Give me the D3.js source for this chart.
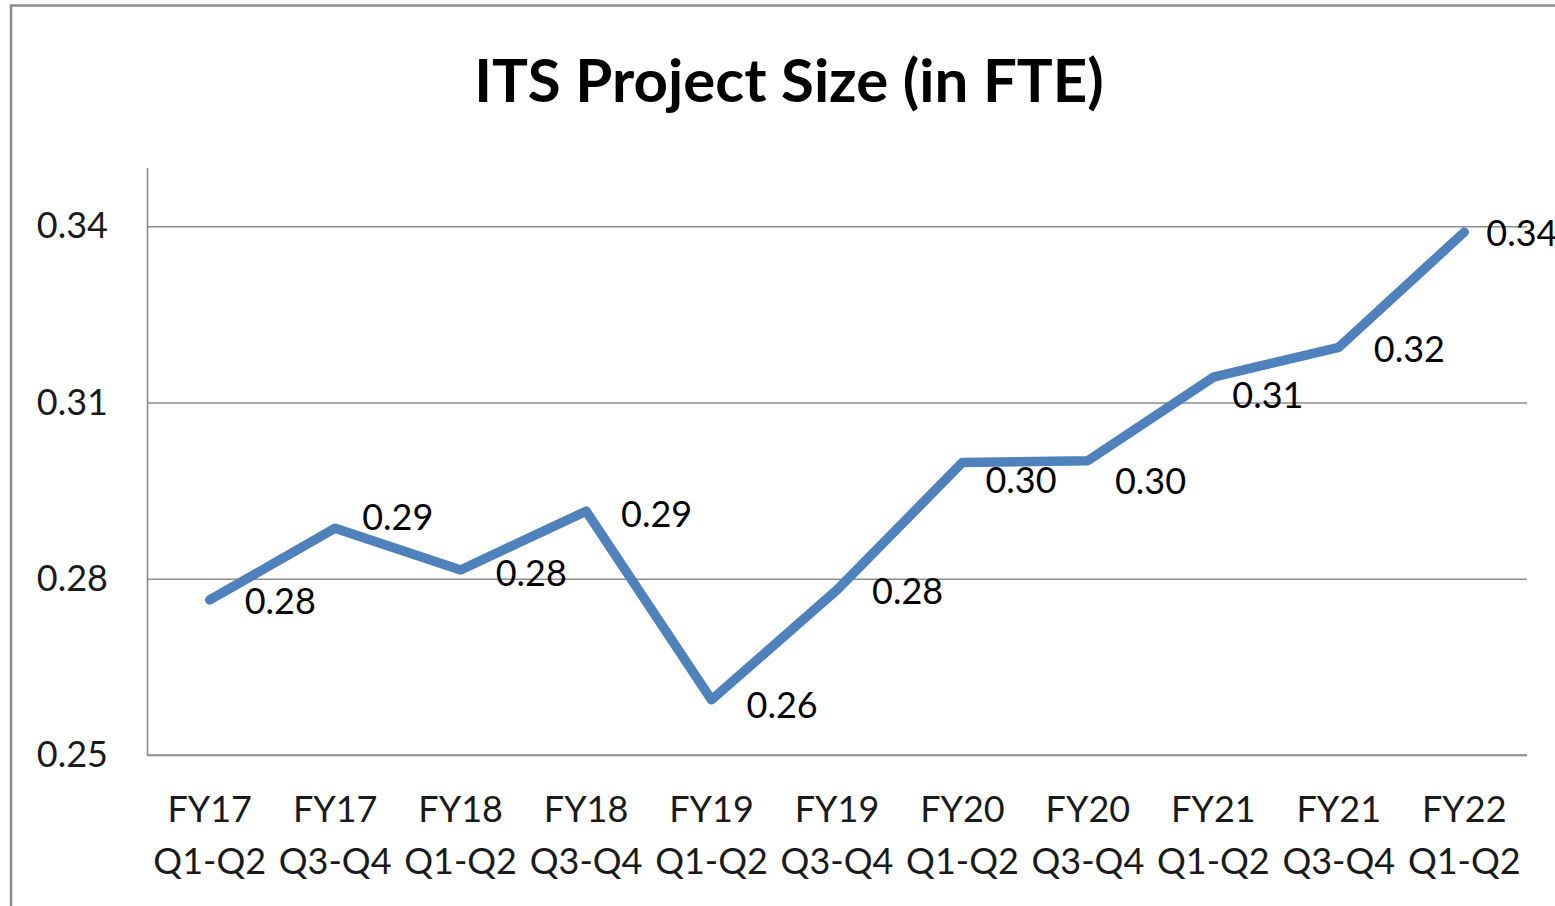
<!DOCTYPE html>
<html>
<head>
<meta charset="utf-8">
<script src="https://cdn.jsdelivr.net/npm/d3@7"></script>
<style>
  html, body { margin: 0; padding: 0; background: #fff; overflow: hidden; }
  svg { display: block; font-family: Lato, "Open Sans", sans-serif; }
</style>
</head>
<body>
<svg id="chart" width="1555" height="906"></svg>
<script>
// values
const periodYears = ["FY17", "FY17", "FY18", "FY18", "FY19", "FY19", "FY20", "FY20", "FY21", "FY21", "FY22"];
const periodHalves = ["Q1-Q2", "Q3-Q4", "Q1-Q2", "Q3-Q4", "Q1-Q2", "Q3-Q4", "Q1-Q2", "Q3-Q4", "Q1-Q2", "Q3-Q4", "Q1-Q2"];
const fteValues = [0.2764, 0.2886, 0.2815, 0.2915, 0.2594, 0.2781, 0.2998, 0.3001, 0.3143, 0.3194, 0.3390];
const yTicks = [0.25, 0.28, 0.31, 0.34];
const yDomain = [0.25, 0.35];

// data labels were nudged by hand in the original, keep those nudges here [dx, dy]
const labelNudge = [[35, 0], [27, -12], [35, 2], [35, 2], [35, 4], [35, 0],
                    [23, 17], [27, 19], [19, 17], [35, 1], [22, 0]];

const margin = { left: 147, right: 28, top: 167.5, bottom: 151 };
const svg = d3.select("#chart");
const W = +svg.attr("width"), H = +svg.attr("height");

const periods = periodYears.map((y, i) => y + " " + periodHalves[i]);

const x = d3.scaleBand().domain(periods).range([margin.left, W - margin.right]).padding(0);
const y = d3.scaleLinear().domain(yDomain).range([H - margin.bottom, margin.top]);
const cx = d => x(d) + x.bandwidth() / 2;

// outer chart border
svg.append("rect")
   .attr("x", 11).attr("y", 5.5)
   .attr("width", W + 20).attr("height", H + 20)
   .attr("fill", "#fff")
   .attr("stroke", "#8c8c8c")
   .attr("stroke-width", 2.5);

// title
svg.append("text")
   .attr("x", 789).attr("y", 79)
   .attr("text-anchor", "middle")
   .attr("dominant-baseline", "central")
   .attr("font-weight", "bold")
   .attr("font-size", 60)
   .attr("fill", "#000")
   .text("ITS Project Size (in FTE)");

// gridlines
svg.append("g")
   .attr("transform", `translate(${margin.left},0)`)
   .call(d3.axisLeft(y).tickValues(yTicks).tickSize(-(W - margin.left - margin.right)).tickFormat(""))
   .call(g => g.select(".domain").remove())
   .call(g => g.selectAll("line").attr("stroke", "#8c8c8c").attr("stroke-width", 1.6));

// y axis line + labels
svg.append("g")
   .attr("transform", `translate(${margin.left},0)`)
   .call(d3.axisLeft(y).tickValues(yTicks).tickSize(0).tickPadding(39).tickFormat(d3.format(".2f")))
   .call(g => g.select(".domain").attr("stroke", "#8c8c8c").attr("stroke-width", 1.6))
   .call(g => g.selectAll("text")
      .attr("font-family", "Lato, 'Open Sans', sans-serif")
      .attr("font-size", 36)
      .attr("fill", "#1a1a1a"));

// x axis line
svg.append("line")
   .attr("x1", margin.left).attr("x2", W - margin.right)
   .attr("y1", y(yDomain[0])).attr("y2", y(yDomain[0]))
   .attr("stroke", "#8c8c8c").attr("stroke-width", 1.6);

// category labels, two lines each
const cats = svg.append("g").attr("class", "x labels")
   .selectAll("text").data(periods).join("text")
   .attr("text-anchor", "middle")
   .attr("font-size", 36)
   .attr("fill", "#1a1a1a");
cats.append("tspan").attr("x", d => cx(d)).attr("y", 808).attr("dominant-baseline", "central")
    .text((d, i) => periodYears[i]);
cats.append("tspan").attr("x", d => cx(d)).attr("y", 860).attr("dominant-baseline", "central")
    .text((d, i) => periodHalves[i]);

// the series line
const line = d3.line().x((d, i) => cx(periods[i])).y(d => y(d));
svg.append("path")
   .datum(fteValues)
   .attr("d", line)
   .attr("fill", "none")
   .attr("stroke", "#4f81bd")
   .attr("stroke-width", 9.5)
   .attr("stroke-linejoin", "round")
   .attr("stroke-linecap", "round");

// data labels
svg.append("g").attr("class", "data labels")
   .selectAll("text").data(fteValues).join("text")
   .attr("x", (d, i) => cx(periods[i]) + labelNudge[i][0])
   .attr("y", (d, i) => y(d) + labelNudge[i][1])
   .attr("dominant-baseline", "central")
   .attr("font-size", 36)
   .attr("fill", "#000")
   .text(d => d3.format(".2f")(d));
</script>
</body>
</html>
